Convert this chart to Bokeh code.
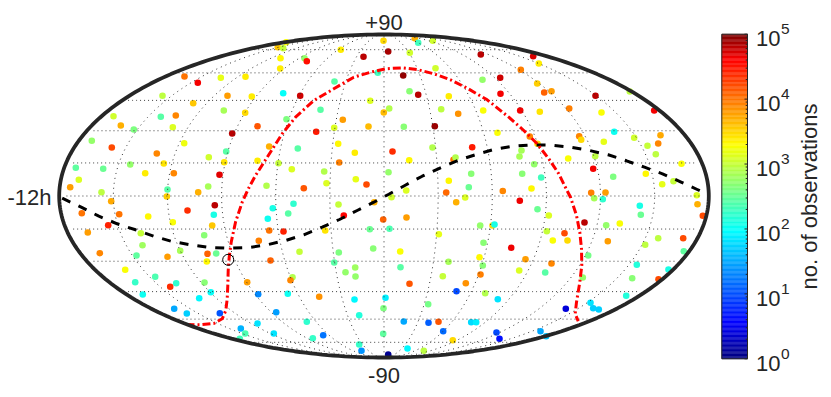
import numpy as np
from bokeh.core.properties import value
from bokeh.embed import file_html
from bokeh.models import ColumnDataSource, LinearColorMapper, Range1d
from bokeh.plotting import figure
from bokeh.resources import INLINE

# Source positions read on the sky map, and colour reading from the jet colour bar
src_x = [
    184, 197.3, 220.3, 245, 227, 251.3, 192.7, 162, 113, 120.3,
    160.3, 175.3, 133.3, 172.3, 223.3, 244.7, 257, 231.7, 91.3, 111.3,
    183.7, 156.3, 225.7, 268.7, 208.3, 257, 163.3, 223.7, 278, 75.3,
    102.7, 129.7, 144.7, 173.3, 219, 78.3, 69.7, 207.7, 266, 167,
    101, 197.7, 277.3, 285.7, 282.7, 280, 279.7, 282.7, 340.3, 383,
    414.3, 417.7, 432.3, 387.7, 363, 409.3, 480.3, 304, 306.3, 435,
    377.3, 402.7, 334, 482, 499.7, 409, 417.7, 299.7, 500, 448.3,
    369.7, 320, 388.7, 383.3, 440.7, 457.7, 482.7, 286, 342.3, 368,
    333.7, 403.3, 434.3, 315.7, 497, 297.3, 337.7, 354.3, 392, 432,
    471.7, 408.7, 453, 455, 338.7, 291.3, 323.7, 388, 470.7, 355.3,
    326, 448.3, 366, 303.3, 468.3, 502.3, 405.7, 445.7, 532.7, 538.3,
    520.3, 536.7, 543.7, 551, 595, 629.3, 653.7, 519.7, 539.3, 568.7,
    601, 613.7, 660, 633.7, 529.3, 578.7, 580.7, 603.3, 657.7, 647,
    537, 521, 519, 655.3, 567.7, 594.7, 681, 533.7, 592.7, 645.3,
    521.7, 540.7, 612.7, 661.7, 673, 531, 590.7, 605, 593.7, 602.3,
    519.3, 696.3, 697, 702.3, 639.3, 640.3, 537, 548.3, 584, 605.7,
    619.3, 492, 494, 546.3, 564, 552.3, 567, 607.3, 657.7, 682.7,
    644.7, 683.3, 510.7, 587.7, 525, 551, 636.3, 668, 518.7, 544.7,
    582.3, 631.7, 658, 625.7, 497.3, 590, 592.7, 598.3, 565.3, 540,
    545.7, 496, 499, 293, 272.3, 287.7, 338, 391, 455.7, 464.7,
    373.7, 406, 382.7, 343.3, 283, 324.7, 369.3, 389, 438.3, 479.7,
    483, 299, 338.3, 372.7, 399.7, 479, 270, 333.7, 354.7, 345,
    355, 400, 448, 482.3, 480, 442.3, 292, 290, 409, 465.3,
    456, 484.7, 287.3, 318.7, 354, 385, 427.7, 383, 275.7, 358.7,
    306.3, 403.3, 428, 438, 470.7, 475.7, 273.3, 312.3, 322.7, 382.7,
    442.7, 452.3, 358.7, 361, 387.7, 407, 423.3, 110.7, 166.3, 187,
    214.3, 213.3, 81.3, 118.7, 147.7, 172.3, 211.7, 267.3, 268.7, 107.7,
    87.3, 140.3, 203.7, 258.3, 142, 179.7, 99.3, 136, 167, 207,
    215.7, 206.3, 124.7, 154.7, 134.7, 175.7, 169.7, 204, 246.7, 142.3,
    210.3, 198.7, 257.7, 173.7, 186.3, 219.3, 257, 240.3, 244.7, 239.3,
]
src_y = [
    76, 82.3, 77.3, 76.3, 95.3, 96, 102.7, 95.3, 115.7, 125,
    116.3, 115, 129, 126.7, 110, 112.3, 125.7, 133, 140.3, 147,
    142.7, 153, 151, 146, 156.7, 160.3, 163, 161.7, 162.7, 167.3,
    168.3, 164, 172.7, 172.7, 174.3, 179.3, 186.7, 186, 185.3, 189,
    191.7, 191.7, 46.7, 41.7, 47.7, 57.7, 68, 92.7, 49.3, 40.3,
    37.7, 42.3, 40.3, 51, 56.3, 52.3, 54, 57.7, 60.7, 67.7,
    72.3, 75, 81, 79.3, 77.3, 90.7, 94.3, 95.3, 93.3, 95.7,
    100.3, 109.3, 108, 112, 108.7, 113.3, 110, 118.7, 119.3, 126,
    127.3, 126.3, 125.7, 131.3, 132.3, 148, 143.3, 152.3, 151, 147,
    146.7, 159.7, 159.3, 157, 162, 168.7, 171, 171.7, 173.3, 178.7,
    182.7, 180.3, 184, 187.7, 186.7, 190.5, 190, 192, 55.7, 63,
    69.3, 83, 92, 90.7, 95.3, 91, 110, 110, 111.3, 108,
    112, 131.3, 134.7, 137.3, 136, 135.7, 139.3, 141.3, 143, 145.3,
    143.3, 150, 156, 153.7, 158, 155.7, 163.3, 163.7, 168.3, 173.3,
    173.3, 177, 176.3, 183.7, 180.7, 188, 192.3, 192, 197.7, 198.7,
    200.3, 194.7, 203.7, 215.3, 205.3, 214.3, 208.7, 215, 222, 224.7,
    223, 225, 224, 230.7, 232.7, 240, 240, 240.7, 237.7, 237.7,
    244.3, 250.7, 247.3, 255, 258.7, 263, 264.3, 269, 270, 272,
    277, 277.7, 278.7, 295.3, 298.7, 302.3, 307.7, 309, 308.3, 330.7,
    335.7, 332, 338.3, 203.3, 207.7, 213, 204, 196.7, 201.7, 197,
    201.7, 217, 219, 215, 231, 230, 228.7, 228.3, 233.7, 225,
    242.3, 251.3, 252, 248, 251, 256.7, 260, 262, 267, 271.7,
    276, 266.7, 261.3, 265, 274, 275.7, 276.7, 279.7, 283.3, 282.7,
    290.7, 292.7, 293.3, 296.3, 299, 297.3, 303.7, 307.7, 311.7, 314.7,
    321.3, 321, 322.3, 321.3, 321.7, 321.7, 333, 337.7, 334.7, 333.3,
    330.7, 339.7, 344, 350.3, 354, 348, 350.3, 200.7, 196, 210,
    204.7, 214.3, 212.7, 213.7, 216, 221.7, 225, 218.3, 230, 224.7,
    232, 232.7, 234.7, 240.3, 244.7, 250.3, 252.7, 255, 256.3, 253.3,
    253, 261, 269.3, 276.3, 281.7, 282.7, 286.3, 282, 281.7, 294,
    291.7, 297.7, 293.7, 308.3, 313, 312.7, 323, 328, 333, 338.3,
]
colour_read = [
    3.8, 4.4, 3.0, 3.2, 3.6, 3.2, 3.4, 2.8, 2.9, 3.5,
    2.3, 3.7, 2.5, 2.95, 2.7, 3.3, 3.95, 4.7, 2.6, 4.0,
    3.05, 3.7, 2.3, 3.5, 2.9, 3.2, 3.25, 3.25, 2.85, 2.35,
    2.4, 2.6, 3.2, 3.7, 4.5, 2.95, 3.6, 2.7, 2.75, 2.3,
    2.8, 3.5, 3.4, 3.1, 2.85, 3.15, 3.2, 1.9, 3.2, 3.3,
    3.5, 2.2, 2.9, 4.8, 4.7, 2.9, 4.7, 2.6, 4.3, 2.9,
    2.2, 4.9, 2.3, 2.6, 4.6, 2.55, 4.7, 4.6, 4.4, 3.2,
    2.95, 2.3, 2.75, 3.45, 2.8, 3.65, 3.1, 2.5, 3.6, 3.45,
    2.95, 2.55, 4.85, 4.25, 3.1, 2.3, 3.15, 3.2, 4.15, 2.75,
    4.25, 3.15, 3.8, 2.75, 3.75, 2.95, 2.75, 2.6, 2.55, 3.0,
    2.95, 3.15, 4.0, 3.95, 2.4, 3.7, 2.95, 3.85, 4.55, 3.2,
    3.75, 3.35, 3.9, 3.6, 4.7, 2.8, 4.4, 4.4, 3.25, 3.75,
    3.1, 1.95, 3.55, 2.9, 3.7, 3.7, 3.3, 3.0, 3.7, 2.85,
    3.3, 2.7, 2.7, 2.8, 3.1, 2.8, 3.1, 2.6, 4.4, 3.15,
    2.55, 2.2, 2.5, 3.0, 2.85, 3.15, 3.75, 3.6, 2.7, 2.1,
    4.45, 2.95, 3.5, 4.0, 2.0, 2.4, 2.4, 2.95, 4.7, 2.6,
    3.1, 3.3, 2.0, 2.85, 4.0, 3.1, 3.3, 3.6, 2.8, 4.0,
    2.8, 2.35, 4.45, 2.45, 3.6, 3.7, 2.05, 2.0, 2.95, 2.3,
    2.6, 2.55, 4.0, 2.05, 1.75, 1.75, 1.65, 1.65, 0.45, 1.45,
    1.6, 1.0, 0.7, 2.1, 2.0, 2.3, 2.85, 2.9, 3.5, 2.95,
    3.5, 3.6, 3.9, 4.35, 4.2, 3.25, 2.4, 2.25, 3.0, 2.6,
    2.55, 2.85, 2.5, 2.55, 3.1, 3.15, 3.9, 2.3, 2.65, 2.6,
    2.6, 2.3, 2.7, 2.55, 3.75, 2.85, 2.75, 3.7, 3.95, 3.65,
    1.0, 2.75, 1.95, 3.65, 1.85, 1.8, 2.45, 2.5, 1.4, 2.05,
    2.1, 1.45, 1.1, 3.95, 1.7, 1.8, 1.75, 2.15, 1.2, 2.35,
    1.15, 3.3, 2.15, 1.35, 0.1, 1.85, 2.8, 3.55, 3.35, 4.15,
    4.7, 2.0, 3.8, 3.8, 3.15, 3.1, 3.4, 1.95, 3.8, 4.2,
    3.6, 2.85, 2.55, 3.75, 2.65, 2.7, 3.7, 2.35, 3.6, 3.9,
    2.4, 3.15, 3.1, 2.25, 2.15, 2.1, 4.15, 2.55, 3.6, 1.95,
    1.9, 1.85, 1.3, 1.45, 1.65, 1.05, 1.75, 1.5, 2.25, 2.2,
]

ecliptic_x = [61.7, 80.7, 98.3, 116.7, 135, 153.3, 171.7, 190, 210, 228.3, 248.3, 266.7,
              285, 303.3, 321.7, 339, 356.7, 373.3, 388.3, 404.3, 421.7, 440, 457.3, 475.7,
              493.3, 512.7, 531.7, 551, 570, 589, 607.7, 626, 644, 662, 680, 696.7, 703]
ecliptic_y = [197.7, 206.7, 215.7, 223.3, 229.3, 235.7, 241, 244.3, 247, 247.7, 247, 244.3,
              240, 234.3, 226.7, 219, 210, 201.7, 193.7, 185, 175.7, 167.3, 160, 154,
              149, 145.7, 144.3, 144.7, 146.7, 150, 154.3, 160.3, 166.7, 173.3, 181.3, 189, 192]
galactic_x = [186, 200, 213.3, 221.7, 225.3, 226.7, 227.3, 227.7, 228.7, 230.7, 235, 241.7, 248,
              255, 266.7, 281.7, 295, 313.3, 333.3, 353.3, 370, 385, 401.7, 416.7, 433.3, 450,
              466.7, 486.7, 508.3, 523.3, 536.7, 548.3, 558.3, 566, 570, 576, 579.3, 581, 581.3,
              579.3, 576, 574.7, 577.7]
galactic_y = [324, 324.3, 323, 318.3, 310, 298.3, 285, 270, 256.7, 241.7, 221.7, 201.7, 188,
              175, 156.7, 133.3, 116.7, 100, 88.3, 76.7, 71.7, 68.3, 67.3, 69, 73.3, 79.3,
              87.7, 99.3, 116.7, 130, 143.3, 158.3, 173.3, 189, 196.7, 215, 231.7, 248.3, 265,
              281.7, 301.7, 313.3, 320.7]
marker_x = [227.7]
marker_y = [259.3]

lat_lines = [-75, -60, -45, -30, -15, 0, 15, 30, 45, 60, 75]
lon_lines = [-150, -120, -90, -60, -30, 0, 30, 60, 90, 120, 150]
decades = [0, 1, 2, 3, 4, 5]
minor_multipliers = [2, 3, 4, 5, 6, 7, 8, 9]

# Map frame, in the units of the read positions
CX, CY, A, B = 383.5, 195.5, 324.8, 161.5
BAR_L, BAR_R, BAR_T, BAR_B = 721.3, 747.0, 33.7, 358.3
INK = "#262626"
FONT = value("Liberation Sans")


def bar_y(log_value):
    return BAR_B - (BAR_B - BAR_T) * np.asarray(log_value, dtype=float) / 5.0


def mollweide(lon_deg, lat_deg):
    phi = np.radians(np.asarray(lat_deg, dtype=float))
    lam = np.radians(np.asarray(lon_deg, dtype=float))
    th = phi * 1.0
    for _ in range(60):
        d = 2 * th + np.sin(2 * th) - np.pi * np.sin(phi)
        th = th - d / np.maximum(2 + 2 * np.cos(2 * th), 1e-6)
    return CX + A * (lam / np.pi) * np.cos(th), CY - B * np.sin(th)


# Colour map as it appears on the reference colour bar (jet, positions read on the bar)
stops_pos = [0, 0.55, 1.97, 3.3, 4.62, 5]
stops_rgb = [(0, 0, 128), (0, 0, 255), (0, 255, 255), (255, 255, 0), (255, 0, 0), (128, 0, 0)]
levels = np.linspace(0, 5, 256)
rgb = [np.interp(levels, stops_pos, [s[i] for s in stops_rgb]) for i in range(3)]
palette = ["#%02x%02x%02x" % (int(r), int(g), int(b)) for r, g, b in zip(*rgb)]
mapper = LinearColorMapper(palette=palette, low=0, high=5)
log10_obs = np.interp(colour_read, [0, 0.625, 1.875, 3.125, 4.375, 5], stops_pos)

p = figure(width=831, height=397, x_range=Range1d(0, 831), y_range=Range1d(397, 0),
           output_backend="svg", toolbar_location=None, min_border=0,
           x_axis_location=None, y_axis_location=None)
p.outline_line_color = None
p.grid.visible = False
p.background_fill_color = "white"

source = ColumnDataSource(dict(x=src_x, y=src_y, v=log10_obs))
p.scatter("x", "y", source=source, size=6.6, marker="circle", line_color=None,
          fill_color={"field": "v", "transform": mapper})

# Graticule
for lat in lat_lines:
    half = 176 if abs(lat) < 70 else 170
    xs, ys = mollweide(np.linspace(-half, half, 120), np.full(120, lat))
    p.line(xs, ys, line_color="#404040", line_width=1, line_dash="1 3")
for lon in lon_lines:
    xs, ys = mollweide(np.full(200, lon), np.linspace(-89.5, 89.5, 200))
    p.line(xs, ys, line_color="#303030", line_width=1, line_dash="1 4")

p.line(ecliptic_x, ecliptic_y, line_color="black", line_width=3, line_dash="9 9")
p.line(galactic_x, galactic_y, line_color="#ff0000", line_width=3, line_dash="8 3 2 3")
p.scatter(marker_x, marker_y, size=11, marker="circle", fill_color=None,
          line_color="black", line_width=1)

# Map outline
t = np.linspace(0, 2 * np.pi, 361)
p.line(CX + A * np.cos(t), CY + B * np.sin(t), line_color=INK, line_width=3.8)

# Colour bar
edges = np.linspace(0, 5, 257)
p.quad(left=BAR_L, right=BAR_R, top=bar_y(edges[1:]), bottom=bar_y(edges[:-1]),
       fill_color=palette, line_color=palette, line_width=0.3)
p.quad(left=[BAR_L], right=[BAR_R], top=[BAR_T], bottom=[BAR_B],
       fill_color=None, line_color=INK, line_width=1)
major_y = bar_y(decades)
p.segment(BAR_R - 3, major_y, BAR_R, major_y, line_color=INK, line_width=1)
minor = np.array([d + np.log10(m) for d in decades[:-1] for m in minor_multipliers])
p.segment(BAR_R - 1.8, bar_y(minor), BAR_R, bar_y(minor), line_color=INK, line_width=1)

SIZE = "22px"
p.text(x=[755.5] * 6, y=major_y + 4.5, text=["10"] * 6, text_font=FONT, text_font_size=SIZE,
       text_color=INK, text_align="left", text_baseline="alphabetic")
p.text(x=[780.5] * 6, y=major_y - 5, text=[str(d) for d in decades], text_font=FONT,
       text_font_size="15.5px", text_color=INK, text_align="left", text_baseline="alphabetic")
p.text(x=[809], y=[196], text=["no. of observations"], text_font=FONT, text_font_size=SIZE,
       text_color=INK, angle=np.pi / 2, text_align="center", text_baseline="alphabetic")

p.text(x=[CX], y=[21.5], text=["+90"], text_font=FONT, text_font_size=SIZE, text_color=INK,
       text_align="center", text_baseline="alphabetic")
p.text(x=[CX], y=[374.5], text=["-90"], text_font=FONT, text_font_size=SIZE, text_color=INK,
       text_align="center", text_baseline="alphabetic")
p.text(x=[7], y=[196.5], text=["-12h"], text_font=FONT, text_font_size=SIZE, text_color=INK,
       text_align="left", text_baseline="alphabetic")

open("out.html", "w").write(file_html(p, INLINE))
